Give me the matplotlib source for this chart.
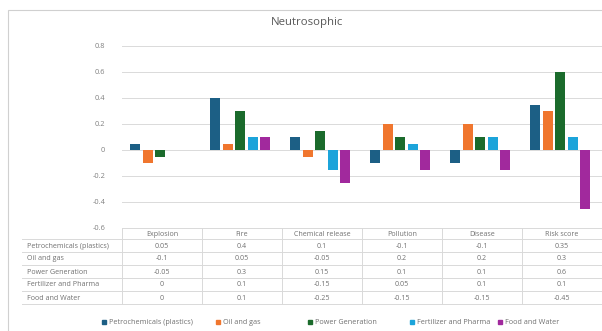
import matplotlib
matplotlib.use('Agg')
import matplotlib.pyplot as plt
from matplotlib.patches import Rectangle
from matplotlib.lines import Line2D
import numpy as np

plt.rcParams['font.family'] = ['Open Sans', 'DejaVu Sans']

categories = ['Explosion', 'Fire', 'Chemical release', 'Pollution', 'Disease', 'Risk score']
series_names = ['Petrochemicals (plastics)', 'Oil and gas', 'Power Generation',
                'Fertilizer and Pharma', 'Food and Water']
petro = [0.05, 0.4, 0.1, -0.1, -0.1, 0.35]
oil_gas = [-0.1, 0.05, -0.05, 0.2, 0.2, 0.3]
power = [-0.05, 0.3, 0.15, 0.1, 0.1, 0.6]
fert = [0, 0.1, -0.15, 0.05, 0.1, 0.1]
food = [0, 0.1, -0.25, -0.15, -0.15, -0.45]
table_text = [
    ['0.05', '0.4', '0.1', '-0.1', '-0.1', '0.35'],
    ['-0.1', '0.05', '-0.05', '0.2', '0.2', '0.3'],
    ['-0.05', '0.3', '0.15', '0.1', '0.1', '0.6'],
    ['0', '0.1', '-0.15', '0.05', '0.1', '0.1'],
    ['0', '0.1', '-0.25', '-0.15', '-0.15', '-0.45'],
]
colors = ['#1c5f85', '#f0762e', '#1b6b2c', '#1ca4da', '#a1299d']

W, H = 602, 331
fig = plt.figure(figsize=(W / 100, H / 100), dpi=100)

def fx(x):
    return x / W

def fy(y):
    return 1 - y / H

# outer chart border
fig.patches.append(Rectangle((fx(8), fy(345)), fx(610) - fx(8), fy(10) - fy(345),
                             transform=fig.transFigure, fill=False,
                             edgecolor='#d0d0d0', linewidth=0.8))

ax_l, ax_r, ax_t, ax_b = 122, 602, 46, 228
ax = fig.add_axes([fx(ax_l), fy(ax_b), fx(ax_r) - fx(ax_l), fy(ax_t) - fy(ax_b)])

data = [petro, oil_gas, power, fert, food]
x = np.arange(len(categories))
slot = 0.156
bw = 0.125
for i, (vals, c) in enumerate(zip(data, colors)):
    ax.bar(x + (i - 2) * slot - 0.02, vals, width=bw, color=c, zorder=3)

ax.set_xlim(-0.5, len(categories) - 0.5)
ax.set_ylim(-0.6, 0.8)
yt = np.round(np.arange(-0.6, 0.81, 0.2), 1)
ax.set_yticks(yt)
ax.set_yticklabels(['0' if v == 0 else f'{v:g}' for v in yt], fontsize=5.3, color='#808080')
ax.tick_params(axis='y', length=0, pad=12)
ax.set_xticks([])
ax.grid(axis='y', color='#dadada', linewidth=0.7, zorder=0)
for s in ax.spines.values():
    s.set_visible(False)

fig.text(fx(307), fy(22), 'Neutrosophic', ha='center', va='center',
         fontsize=8.2, color='#595959')

# data table
col_w = 80
tbl_left = 22
row_top = [228, 239, 252, 265, 278, 291, 304]
lc = '#d9d9d9'
fig.lines.append(Line2D([fx(ax_l), fx(ax_r)], [fy(row_top[0])] * 2, transform=fig.transFigure,
                        color=lc, linewidth=0.7))
for y in row_top[1:]:
    fig.lines.append(Line2D([fx(tbl_left), fx(ax_r)], [fy(y)] * 2, transform=fig.transFigure,
                            color=lc, linewidth=0.7))
for j in range(len(categories)):
    xv = ax_l + j * col_w
    fig.lines.append(Line2D([fx(xv)] * 2, [fy(row_top[0]), fy(row_top[-1])],
                            transform=fig.transFigure, color=lc, linewidth=0.7))

tc = '#707070'
fs = 5.1
for j, cat in enumerate(categories):
    cx = ax_l + (j + 0.5) * col_w
    fig.text(fx(cx), fy((row_top[0] + row_top[1]) / 2 + 0.5), cat, ha='center', va='center',
             fontsize=fs, color=tc)
for i, name in enumerate(series_names):
    cy = (row_top[i + 1] + row_top[i + 2]) / 2 + 0.5
    fig.text(fx(27), fy(cy), name, ha='left', va='center', fontsize=fs, color=tc)
    for j in range(len(categories)):
        cx = ax_l + (j + 0.5) * col_w
        fig.text(fx(cx), fy(cy), table_text[i][j], ha='center', va='center',
                 fontsize=fs, color=tc)

# legend
leg_x = [102, 216, 308, 410, 498]
for lx, name, c in zip(leg_x, series_names, colors):
    fig.patches.append(Rectangle((fx(lx), fy(324)), fx(4), fy(0) - fy(4),
                                 transform=fig.transFigure, color=c))
    fig.text(fx(lx + 7), fy(322), name, ha='left', va='center', fontsize=5.2, color=tc)

fig.savefig('out.png', dpi=100)
